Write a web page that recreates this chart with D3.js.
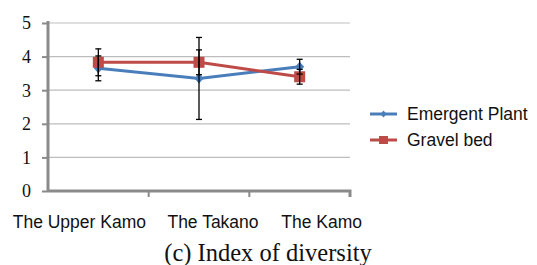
<!DOCTYPE html>
<html><head><meta charset="utf-8">
<script src="https://cdn.jsdelivr.net/npm/d3@7"></script>
<style>body{margin:0;background:#fff}svg{display:block}</style>
</head><body>
<svg id="c" width="537" height="265"></svg>
<script>
const categories = ["The Upper Kamo", "The Takano", "The Kamo"];
const emergentValues = [3.65, 3.35, 3.70];
const emergentErrors = [0.37, 1.22, 0.22];
const gravelValues = [3.83, 3.83, 3.40];
const gravelErrors = [0.40, 0.37, 0.22];
const yTicks = [0, 1, 2, 3, 4, 5];
const seriesNames = ["Emergent Plant", "Gravel bed"];
const caption = "(c) Index of diversity";

const SERIF = "'Liberation Serif', 'Times New Roman', serif";
const SANS = "'Liberation Sans', Arial, sans-serif";
const svg = d3.select("#c");
const x = d3.scaleBand().domain(categories).range([48, 350]);
const y = d3.scaleLinear().domain([0, 5]).range([191, 23]);
const cx = d => x(d) + x.bandwidth() / 2;

// gridlines
svg.append("g").selectAll("line").data(yTicks.slice(1)).join("line")
  .attr("x1", 48).attr("x2", 350)
  .attr("y1", d => y(d)).attr("y2", d => y(d))
  .attr("stroke", d => d === 5 ? "#d4d4d4" : "#bdbdbd").attr("stroke-width", 1.3);

// y axis
const yAxis = svg.append("g").attr("transform", "translate(48,0)")
  .call(d3.axisLeft(y).tickValues(yTicks).tickSize(6).tickPadding(11).tickFormat(d3.format("d")));
yAxis.attr("font-family", null).attr("font-size", null);
yAxis.select(".domain").attr("stroke", "#8a8a8a").attr("stroke-width", 3).attr("d", "M0,21V191");
yAxis.selectAll(".tick line").attr("stroke", "#8a8a8a").attr("stroke-width", 2);
yAxis.selectAll("text").style("font-family", SERIF)
  .style("font-size", "18px").attr("fill", "#111").attr("dy", "0.33em");

// x axis
const labelShift = [-19, 14, 22];
const xAxis = svg.append("g").attr("transform", "translate(0,191)")
  .call(d3.axisBottom(x).tickSize(0).tickPadding(0));
xAxis.attr("font-family", null).attr("font-size", null);
xAxis.select(".domain").attr("stroke", "#8a8a8a").attr("stroke-width", 3)
  .attr("d", "M48,0H350V6");
xAxis.selectAll(".tick line").remove();
xAxis.selectAll("text").style("font-family", SANS)
  .style("font-size", "17.5px").attr("fill", "#111").attr("y", 37).attr("dy", 0)
  .attr("dx", (d, i) => labelShift[i]);
const bounds = x.domain().slice(1).map(d => x(d));
svg.append("g").selectAll("line").data(bounds).join("line")
  .attr("x1", d => d).attr("x2", d => d).attr("y1", 191).attr("y2", 197)
  .attr("stroke", "#8a8a8a").attr("stroke-width", 2);

const series = [
  {name: seriesNames[0], vals: emergentValues, errs: emergentErrors, color: "#4a7ebb", marker: "diamond"},
  {name: seriesNames[1], vals: gravelValues, errs: gravelErrors, color: "#be4b48", marker: "square"}
];

function marker(g, s, px, py) {
  if (s.marker === "diamond") {
    g.append("path").attr("d", `M${px},${py-5}L${px+4.5},${py}L${px},${py+5}L${px-4.5},${py}Z`).attr("fill", s.color);
  } else {
    g.append("rect").attr("x", px - 5.5).attr("y", py - 5.5).attr("width", 11).attr("height", 11).attr("fill", s.color);
  }
}

series.forEach(s => {
  const pts = categories.map((c, i) => ({c, v: s.vals[i], e: s.errs[i]}));
  const g = svg.append("g");
  g.append("path").datum(pts)
    .attr("d", d3.line().x(d => cx(d.c)).y(d => y(d.v)))
    .attr("fill", "none").attr("stroke", s.color).attr("stroke-width", 3);
  pts.forEach(p => marker(g, s, cx(p.c), y(p.v)));
});

// error bars on top
series.forEach(s => {
  const g = svg.append("g");
  categories.forEach((c, i) => {
    const px = cx(c), hi = y(s.vals[i] + s.errs[i]), lo = y(s.vals[i] - s.errs[i]);
    g.append("line").attr("x1", px).attr("x2", px).attr("y1", hi).attr("y2", lo).attr("stroke", "#000").attr("stroke-width", 1.3);
    [hi, lo].forEach(yy => g.append("line").attr("x1", px - 3).attr("x2", px + 3).attr("y1", yy).attr("y2", yy).attr("stroke", "#000").attr("stroke-width", 1.3));
  });
});

// legend
const lg = svg.append("g");
series.forEach((s, i) => {
  const ly = 114 + i * 26;
  lg.append("line").attr("x1", 370).attr("x2", 397).attr("y1", ly).attr("y2", ly).attr("stroke", s.color).attr("stroke-width", 3);
  if (s.marker === "diamond") {
    lg.append("path").attr("d", `M383.5,${ly-3.5}L386.5,${ly}L383.5,${ly+3.5}L380.5,${ly}Z`).attr("fill", s.color);
  } else {
    lg.append("rect").attr("x", 379).attr("y", ly - 4).attr("width", 9).attr("height", 8).attr("fill", s.color);
  }
  lg.append("text").attr("x", 407).attr("y", ly).attr("dy", "0.35em")
    .style("font-family", SANS).style("font-size", "17.5px").attr("fill", "#111").text(s.name);
});

svg.append("text").attr("x", 268).attr("y", 261).attr("text-anchor", "middle")
  .style("font-family", SERIF).style("font-size", "24.5px").attr("fill", "#111").text(caption);
</script>
</body></html>
